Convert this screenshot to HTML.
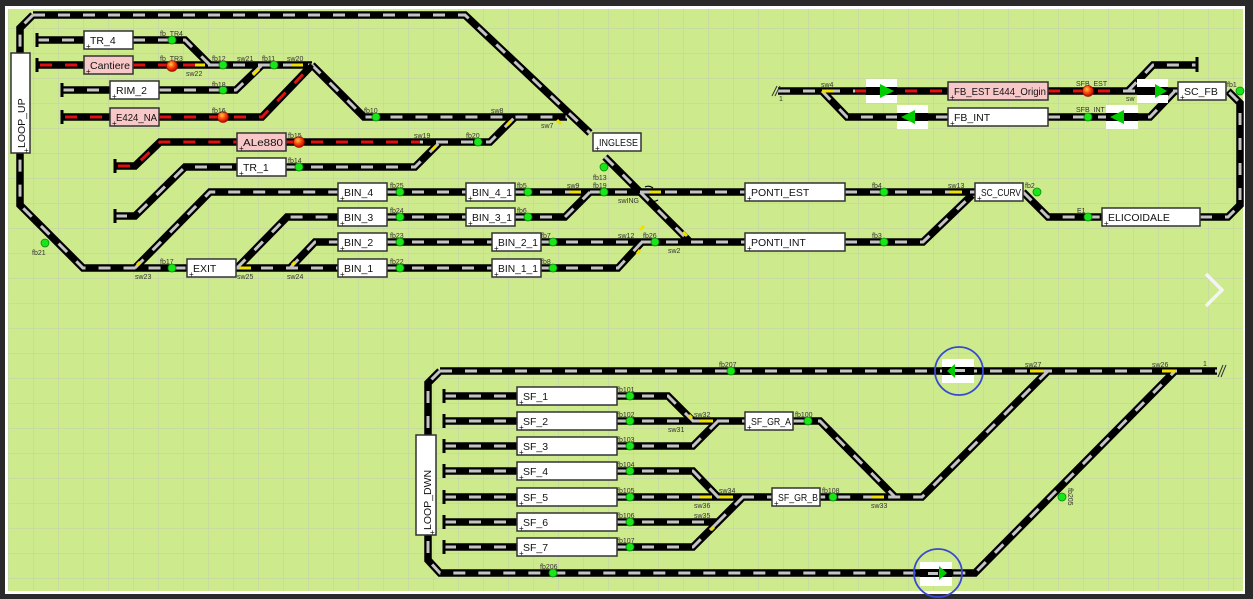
<!DOCTYPE html>
<html><head><meta charset="utf-8"><style>
html,body{margin:0;padding:0;background:#2a2a2a;}
svg{display:block;font-family:"Liberation Sans",sans-serif;}
.bx{fill:#fff;stroke:#333;stroke-width:1.5}
.pk{fill:#f8c8c8;stroke:#333;stroke-width:1.5}
.bt{font-size:10.5px;fill:#111}
.pl{font-size:8px;fill:#111}
.lb{font-size:7px;fill:#333}
.fb{fill:#19e619;stroke:#0a8a0a;stroke-width:.8}
</style></head><body>
<svg width="1253" height="599" viewBox="0 0 1253 599" xmlns="http://www.w3.org/2000/svg">
<defs>
<pattern id="grid" width="25" height="25" patternUnits="userSpaceOnUse" x="8" y="3">
<path d="M0 0H25M0 0V25" stroke="#b9bcc8" stroke-width="1" fill="none" opacity=".6"/>
</pattern>
<radialGradient id="rs" cx="40%" cy="35%" r="60%"><stop offset="0" stop-color="#ffd040"/><stop offset=".5" stop-color="#ff5010"/><stop offset="1" stop-color="#c01000"/></radialGradient>
<g id="tr" fill="none">
<path d="M33,15 H465 L590,133"/>
<path d="M33,15 L20,28 V205 L83,268 H187 M236,268 H338 M387,268 H492 M541,268 H618 L642,242"/>
<path d="M37,40 H84 M133,40 H185 L210,65"/>
<path d="M37,65 H84 M133,65 H312"/>
<path d="M62,90 H110 M159,90 H236 L262,65"/>
<path d="M62,117 H110 M159,117 H262 L312,65"/>
<path d="M312,65 L364,117 H567"/>
<path d="M115,166 H135 L160,142 H237 M286,142 H490 L515,117"/>
<path d="M115,216 H135 L185,167 H237 M286,167 H415 L440,142"/>
<path d="M135,268 L210,192 H338 M387,192 H466 M515,192 H745 M845,192 H975"/>
<path d="M237,268 L287,217 H338 M387,217 H466 M515,217 H565 L590,192"/>
<path d="M290,268 L315,242 H338 M387,242 H492 M541,242 H745 M845,242 H923 L972,195"/>
<path d="M605,157 L690,242"/>
<path d="M1023,192 L1048,217 H1102 M1200,217 H1228 L1240,205 V103 L1228,91"/>
<path d="M778,91 H948 M1048,91 H1178"/>
<path d="M822,91 L847,117 H948 M1048,117 H1150 L1175,91"/>
<path d="M1128,91 L1153,65 H1197"/>
<path d="M440,371 H1217 M440,371 L428,383 V560 L440,573 H975 L1175,371"/>
<path d="M1048,371 L922,497 H820 M617,497 H772"/>
<path d="M444,396 H517 M444,421 H517 M444,446 H517 M444,471 H517 M444,497 H517 M444,522 H517 M444,547 H517"/>
<path d="M617,396 H668 L693,421"/>
<path d="M617,421 H745 M793,421 H820 L895,497"/>
<path d="M617,446 H693 L718,421"/>
<path d="M617,471 H693 L718,497"/>
<path d="M617,522 H718 L743,497"/>
<path d="M617,547 H693 L718,522"/>
</g>
</defs>
<rect x="0" y="0" width="1253" height="599" fill="#2a2a2a"/>
<rect x="5" y="6" width="1240" height="588" fill="#fff"/>
<rect x="8" y="9" width="1235" height="582" fill="#cdea8c"/>
<rect x="8" y="9" width="1235" height="582" fill="url(#grid)"/>

<g stroke="#000" stroke-width="7.5" stroke-linejoin="miter"><use href="#tr"/></g>
<g stroke="#c4c4c4" stroke-width="3" stroke-dasharray="12 13"><use href="#tr"/></g>
<g stroke="#000" stroke-width="5" fill="none">
<path d="M37,65 H84 M133,65 H195 M62,117 H110 M159,117 H262 L312,65 M115,166 H135 L160,142 H237 M286,142 H420 M855,91 H948 M1048,91 H1120"/>
</g>
<g stroke="#e01010" stroke-width="3" stroke-dasharray="12 13" fill="none">
<path d="M40,65 H84 M133,65 H195 M65,117 H110 M159,117 H262 L312,65 M118,166 H135 L160,142 H237 M286,142 H420 M855,91 H948 M1048,91 H1120"/>
</g>
<g stroke="#000" stroke-width="3">
<path d="M37,33V47 M37,58V72 M62,83V97 M62,110V124 M115,159V173 M115,209V223 M1197,57V72"/>
<path d="M444,389V403 M444,414V428 M444,439V453 M444,464V478 M444,490V504 M444,515V529 M444,540V554"/>
</g>
<g stroke="#f0e000" stroke-width="3">
<path d="M195,65H205 M292,65H303 M253,75L259,69 M822,91H834 M950,192H962 M569,192H581 M649,192H661 M687,236L683,232 M640,250L637,254 M507,125L511,121 M432,150L436,146"/>
<path d="M1030,371H1043 M1162,371H1175 M872,497H884 M700,497H712 M720,497H733 M700,421H713 M689,415L692,418 M711,530L714,527 M137,265L140,262 M240,268H251 M292,265L295,262 M640,230L644,226 M557,120L561,124"/>
</g>
<path d="M645,187 q4,-2 8,1 M658,200 q-5,3 -9,0" stroke="#000" stroke-width="1.2" fill="none"/>
<path d="M772,96 L777,86 M775,96 L780,86 M1218,377 L1223,365 M1221,377 L1226,365" stroke="#333" stroke-width="1"/>
<text x="779" y="101" class="lb">1</text>
<text x="1203" y="366" class="lb">1</text>

<rect x="11" y="53" width="19" height="100" class="bx"/>
<text class="bt" transform="translate(25,148) rotate(-90)">LOOP_UP</text>
<rect x="416" y="435" width="20" height="100" class="bx"/>
<text class="bt" transform="translate(431,530) rotate(-90)">LOOP_DWN</text>
<g>
<rect x="84" y="31" width="49" height="18" class="bx"/><text x="90" y="44" class="bt">TR_4</text>
<rect x="84" y="56" width="49" height="18" class="pk"/><text x="90" y="69" class="bt" textLength="40" lengthAdjust="spacingAndGlyphs">Cantiere</text>
<rect x="110" y="81" width="49" height="18" class="bx"/><text x="116" y="94" class="bt">RIM_2</text>
<rect x="110" y="108" width="49" height="18" class="pk"/><text x="116" y="121" class="bt" textLength="41" lengthAdjust="spacingAndGlyphs">E424_NA</text>
<rect x="237" y="133" width="49" height="18" class="pk"/><text x="243" y="146" class="bt" textLength="40" lengthAdjust="spacingAndGlyphs">ALe880</text>
<rect x="237" y="158" width="49" height="18" class="bx"/><text x="243" y="171" class="bt">TR_1</text>
<rect x="187" y="259" width="49" height="18" class="bx"/><text x="193" y="272" class="bt">EXIT</text>
<rect x="338" y="183" width="49" height="18" class="bx"/><text x="344" y="196" class="bt">BIN_4</text>
<rect x="338" y="208" width="49" height="18" class="bx"/><text x="344" y="221" class="bt">BIN_3</text>
<rect x="338" y="233" width="49" height="18" class="bx"/><text x="344" y="246" class="bt">BIN_2</text>
<rect x="338" y="259" width="49" height="18" class="bx"/><text x="344" y="272" class="bt">BIN_1</text>
<rect x="466" y="183" width="49" height="18" class="bx"/><text x="472" y="196" class="bt" textLength="40" lengthAdjust="spacingAndGlyphs">BIN_4_1</text>
<rect x="466" y="208" width="49" height="18" class="bx"/><text x="472" y="221" class="bt" textLength="40" lengthAdjust="spacingAndGlyphs">BIN_3_1</text>
<rect x="492" y="233" width="49" height="18" class="bx"/><text x="498" y="246" class="bt" textLength="40" lengthAdjust="spacingAndGlyphs">BIN_2_1</text>
<rect x="492" y="259" width="49" height="18" class="bx"/><text x="498" y="272" class="bt" textLength="40" lengthAdjust="spacingAndGlyphs">BIN_1_1</text>
<rect x="593" y="133" width="48" height="18" class="bx"/><text x="599" y="146" class="bt" textLength="39" lengthAdjust="spacingAndGlyphs">INGLESE</text>
<rect x="745" y="183" width="100" height="18" class="bx"/><text x="751" y="196" class="bt">PONTI_EST</text>
<rect x="745" y="233" width="100" height="18" class="bx"/><text x="751" y="246" class="bt">PONTI_INT</text>
<rect x="975" y="183" width="48" height="18" class="bx"/><text x="981" y="196" class="bt" textLength="40" lengthAdjust="spacingAndGlyphs">SC_CURV</text>
<rect x="1102" y="208" width="98" height="18" class="bx"/><text x="1108" y="221" class="bt">ELICOIDALE</text>
<rect x="948" y="82" width="100" height="18" class="pk"/><text x="954" y="95" class="bt" textLength="92" lengthAdjust="spacingAndGlyphs">FB_EST E444_Origin</text>
<rect x="948" y="108" width="100" height="18" class="bx"/><text x="954" y="121" class="bt">FB_INT</text>
<rect x="1178" y="82" width="48" height="18" class="bx"/><text x="1184" y="95" class="bt">SC_FB</text>
<rect x="517" y="387" width="100" height="18" class="bx"/><text x="523" y="400" class="bt">SF_1</text>
<rect x="517" y="412" width="100" height="18" class="bx"/><text x="523" y="425" class="bt">SF_2</text>
<rect x="517" y="437" width="100" height="18" class="bx"/><text x="523" y="450" class="bt">SF_3</text>
<rect x="517" y="462" width="100" height="18" class="bx"/><text x="523" y="475" class="bt">SF_4</text>
<rect x="517" y="488" width="100" height="18" class="bx"/><text x="523" y="501" class="bt">SF_5</text>
<rect x="517" y="513" width="100" height="18" class="bx"/><text x="523" y="526" class="bt">SF_6</text>
<rect x="517" y="538" width="100" height="18" class="bx"/><text x="523" y="551" class="bt">SF_7</text>
<rect x="745" y="412" width="48" height="18" class="bx"/><text x="751" y="425" class="bt" textLength="40" lengthAdjust="spacingAndGlyphs">SF_GR_A</text>
<rect x="772" y="488" width="48" height="18" class="bx"/><text x="778" y="501" class="bt" textLength="40" lengthAdjust="spacingAndGlyphs">SF_GR_B</text>
</g>
<g class="pl">
<text x="86" y="49">+</text><text x="86" y="74">+</text><text x="112" y="99">+</text><text x="112" y="126">+</text>
<text x="239" y="151">+</text><text x="239" y="176">+</text><text x="189" y="277">+</text>
<text x="340" y="201">+</text><text x="340" y="226">+</text><text x="340" y="251">+</text><text x="340" y="277">+</text>
<text x="468" y="201">+</text><text x="468" y="226">+</text><text x="494" y="251">+</text><text x="494" y="277">+</text>
<text x="595" y="151">+</text><text x="747" y="201">+</text><text x="747" y="251">+</text><text x="977" y="201">+</text>
<text x="1104" y="226">+</text><text x="950" y="100">+</text><text x="950" y="126">+</text><text x="1180" y="100">+</text>
<text x="519" y="405">+</text><text x="519" y="430">+</text><text x="519" y="455">+</text><text x="519" y="480">+</text>
<text x="519" y="506">+</text><text x="519" y="531">+</text><text x="519" y="556">+</text>
<text x="747" y="430">+</text><text x="774" y="506">+</text>
<text x="24" y="153">+</text><text x="430" y="535">+</text>
</g>

<g class="fb">
<circle cx="172" cy="40" r="4"/><circle cx="223" cy="65" r="4"/><circle cx="274" cy="65" r="4"/><circle cx="223" cy="90" r="4"/>
<circle cx="376" cy="117" r="4"/><circle cx="478" cy="142" r="4"/><circle cx="299" cy="167" r="4"/>
<circle cx="400" cy="192" r="4"/><circle cx="400" cy="217" r="4"/><circle cx="400" cy="242" r="4"/><circle cx="400" cy="268" r="4"/>
<circle cx="528" cy="192" r="4"/><circle cx="528" cy="217" r="4"/><circle cx="553" cy="242" r="4"/><circle cx="553" cy="268" r="4"/>
<circle cx="604" cy="192" r="4"/><circle cx="604" cy="167" r="4"/><circle cx="655" cy="242" r="4"/>
<circle cx="884" cy="192" r="4"/><circle cx="884" cy="242" r="4"/><circle cx="1037" cy="192" r="4"/><circle cx="1088" cy="217" r="4"/>
<circle cx="1240" cy="91" r="4"/><circle cx="1088" cy="117" r="4"/><circle cx="172" cy="268" r="4"/><circle cx="45" cy="243" r="4"/>
<circle cx="731" cy="371" r="4"/><circle cx="553" cy="573" r="4"/><circle cx="1062" cy="497" r="4"/>
<circle cx="630" cy="396" r="4"/><circle cx="630" cy="421" r="4"/><circle cx="630" cy="446" r="4"/><circle cx="630" cy="471" r="4"/>
<circle cx="630" cy="497" r="4"/><circle cx="630" cy="522" r="4"/><circle cx="630" cy="547" r="4"/>
<circle cx="808" cy="421" r="4"/><circle cx="833" cy="497" r="4"/>
</g>
<g fill="url(#rs)" stroke="#a00" stroke-width=".6">
<circle cx="172" cy="66" r="5.5"/><circle cx="223" cy="117" r="5.5"/><circle cx="299" cy="142" r="5.5"/><circle cx="1088" cy="91" r="5.5"/>
</g>

<g>
<rect x="866" y="79" width="31" height="24" fill="#fff"/><rect x="866" y="87" width="31" height="8" fill="#000"/><path d="M880,84 L894,91 L880,98Z" fill="#0c0"/>
<rect x="897" y="105" width="31" height="24" fill="#fff"/><rect x="897" y="113" width="31" height="8" fill="#000"/><path d="M915,110 L901,117 L915,124Z" fill="#0c0"/>
<rect x="1137" y="79" width="31" height="24" fill="#fff"/><rect x="1137" y="87" width="31" height="8" fill="#000"/><path d="M1155,84 L1167,91 L1155,98Z" fill="#0c0"/>
<rect x="1106" y="105" width="32" height="24" fill="#fff"/><rect x="1106" y="113" width="32" height="8" fill="#000"/><path d="M1124,110 L1110,117 L1124,124Z" fill="#0c0"/>
<rect x="942" y="359" width="32" height="24" fill="#fff"/><rect x="942" y="367" width="32" height="8" fill="#000"/><rect x="955" y="369" width="10" height="3" fill="#c4c4c4"/><path d="M955,364 L947,371 L955,378Z" fill="#0c0"/>
<rect x="920" y="562" width="32" height="24" fill="#fff"/><rect x="920" y="569" width="32" height="8" fill="#000"/><rect x="928" y="572" width="10" height="3" fill="#c4c4c4"/><path d="M939,566 L947,573 L939,580Z" fill="#0c0"/>
<circle cx="959" cy="371" r="24" fill="none" stroke="#3a4ad0" stroke-width="1.8"/>
<circle cx="938" cy="573" r="24" fill="none" stroke="#3a4ad0" stroke-width="1.8"/>
</g>

<g class="lb">
<text x="160" y="36">fb_TR4</text><text x="160" y="61">fb_TR3</text><text x="186" y="76">sw22</text>
<text x="212" y="61">fb12</text><text x="237" y="61">sw21</text><text x="262" y="61">fb11</text><text x="287" y="61">sw20</text>
<text x="212" y="87">fb18</text><text x="212" y="113">fb16</text><text x="364" y="113">fb10</text><text x="491" y="113">sw8</text><text x="541" y="128">sw7</text>
<text x="288" y="138">fb15</text><text x="414" y="138">sw19</text><text x="466" y="138">fb20</text><text x="288" y="163">fb14</text>
<text x="390" y="188">fb25</text><text x="390" y="213">fb24</text><text x="390" y="238">fb23</text><text x="390" y="264">fb22</text>
<text x="517" y="188">fb5</text><text x="517" y="213">fb6</text><text x="541" y="238">fb7</text><text x="541" y="264">fb8</text>
<text x="567" y="188">sw9</text><text x="593" y="188">fb19</text><text x="593" y="180">fb13</text><text x="618" y="203">swING</text>
<text x="618" y="238">sw12</text><text x="643" y="238">fb26</text><text x="668" y="253">sw2</text>
<text x="872" y="188">fb4</text><text x="948" y="188">sw13</text><text x="1025" y="188">fb2</text><text x="1077" y="213">E1</text>
<text x="872" y="238">fb3</text><text x="32" y="255">fb21</text><text x="160" y="264">fb17</text>
<text x="135" y="279">sw23</text><text x="237" y="279">sw25</text><text x="287" y="279">sw24</text>
<text x="821" y="87">sw4</text><text x="1076" y="86">SFB_EST</text><text x="1076" y="112">SFB_INT</text><text x="1126" y="101">sw</text><text x="1227" y="87">fb1</text>
<text x="719" y="367">fb207</text><text x="1025" y="367">sw27</text><text x="1152" y="367">sw26</text><text x="540" y="569">fb206</text>
<text x="617" y="392">fb101</text><text x="617" y="417">fb102</text><text x="617" y="442">fb103</text><text x="617" y="467">fb104</text>
<text x="617" y="493">fb105</text><text x="617" y="518">fb106</text><text x="617" y="543">fb107</text>
<text x="694" y="417">sw32</text><text x="668" y="432">sw31</text><text x="795" y="417">fb100</text>
<text x="719" y="493">sw34</text><text x="694" y="508">sw36</text><text x="694" y="518">sw35</text><text x="822" y="493">fb108</text><text x="871" y="508">sw33</text>
<text transform="translate(1068,488) rotate(90)">fb205</text>
</g>
<path d="M1206,274 L1222,290 L1206,306" stroke="#f4f4f4" stroke-width="3.5" fill="none"/>
</svg>
</body></html>
